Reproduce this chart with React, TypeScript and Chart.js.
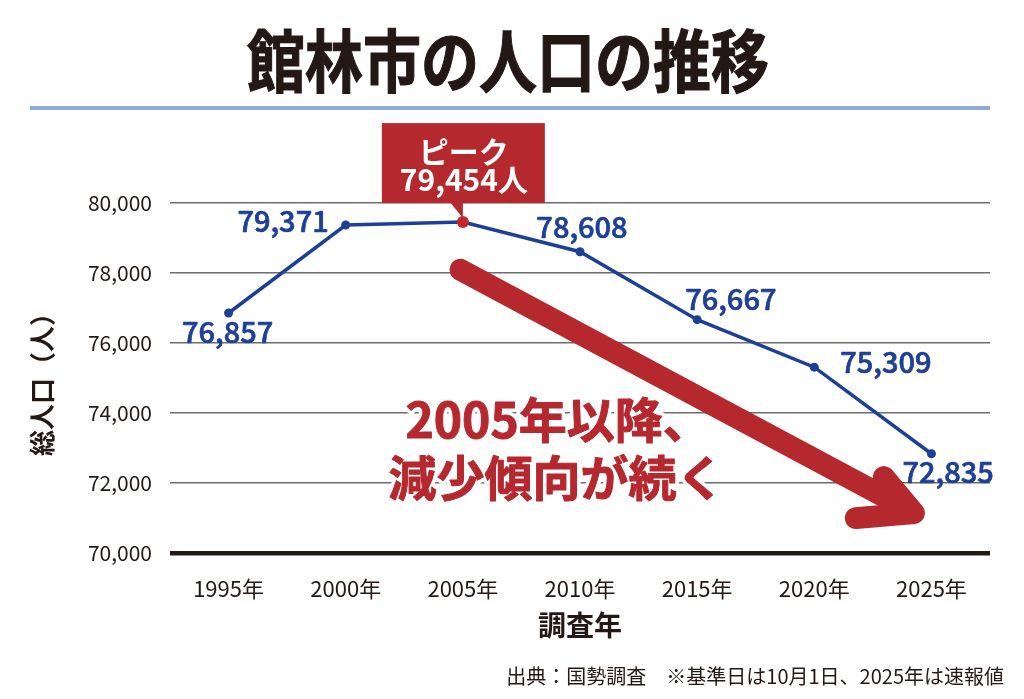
import React, { useEffect, useRef } from "react";
import { Chart, registerables } from "chart.js";

Chart.register(...registerables);

// ---- data ----
const years = ["1995年", "2000年", "2005年", "2010年", "2015年", "2020年", "2025年"];
const population = [76857, 79371, 79454, 78608, 76667, 75309, 72835];
const yMin = 70000;
const yMax = 80000;
const yStep = 2000;
const peakIndex = 2;

const titleText = "館林市の人口の推移";
const yTitleText = "総人口（人）";
const xTitleText = "調査年";
const sourceText = "出典：国勢調査　※基準日は10月1日、2025年は速報値";
const peakLabel = "ピーク";
const messageLines = ["2005年以降、", "減少傾向が続く"];

// ---- styles / placement ----
const FONT = '"Noto Sans CJK JP", "Noto Sans", sans-serif';
const BLUE = "#1e3f96";
const RED = "#b5282e";
const INK = "#231815";

// data label offsets from each point (px)
const labelOffsets: ({ dx: number; dy: number; align: CanvasTextAlign } | null)[] = [
  { dx: -1, dy: 19, align: "center" },
  { dx: -17, dy: -4, align: "right" },
  null,
  { dx: 2, dy: -25, align: "center" },
  { dx: -12, dy: -21, align: "left" },
  { dx: 26, dy: -5, align: "left" },
  { dx: -29, dy: 18, align: "left" },
];

// arrow anchors in data space (category index, value)
const arrowStart = { i: 1.98, v: 78090 };
const arrowTip = { i: 5.85, v: 71140 };
// message anchors (left edge, centre line) in data space
const messageAnchors = [
  { i: 1.51, v: 73800 },
  { i: 1.365, v: 72140 },
];

const fmt = (n: number) => n.toLocaleString("en-US");

const overlayPlugin = {
  id: "overlay",
  afterDraw(chart: any) {
    const { ctx, chartArea } = chart;
    const xs = chart.scales.x;
    const ys = chart.scales.y;
    ctx.save();

    // title
    ctx.save();
    ctx.fillStyle = INK;
    ctx.strokeStyle = INK;
    ctx.lineWidth = 1;
    ctx.font = `bold 58px ${FONT}`;
    ctx.textAlign = "center";
    ctx.textBaseline = "middle";
    ctx.translate(508, 61);
    ctx.scale(1, 1.18);
    ctx.fillText(titleText, 0, 0);
    ctx.strokeText(titleText, 0, 0);
    ctx.restore();

    // rule
    ctx.fillStyle = "#8ea9d3";
    ctx.fillRect(30, 106, chartArea.right - 30, 4);

    // y title
    ctx.save();
    ctx.translate(42, (chartArea.top + chartArea.bottom) / 2);
    ctx.rotate(-Math.PI / 2);
    ctx.fillStyle = INK;
    ctx.font = `bold 26px ${FONT}`;
    ctx.textAlign = "center";
    ctx.textBaseline = "middle";
    ctx.fillText(yTitleText, 0, 0);
    ctx.restore();

    // x title
    ctx.fillStyle = INK;
    ctx.font = `bold 28px ${FONT}`;
    ctx.textAlign = "center";
    ctx.textBaseline = "middle";
    ctx.fillText(xTitleText, (chartArea.left + chartArea.right) / 2, 625);

    // source
    ctx.font = `20px ${FONT}`;
    ctx.textAlign = "right";
    ctx.fillText(sourceText, 1004, 676);

    // arrow
    const sx = xs.getPixelForValue(arrowStart.i);
    const sy = ys.getPixelForValue(arrowStart.v);
    const tx = xs.getPixelForValue(arrowTip.i);
    const ty = ys.getPixelForValue(arrowTip.v);
    ctx.strokeStyle = RED;
    ctx.lineWidth = 22;
    ctx.lineCap = "round";
    ctx.lineJoin = "round";
    ctx.beginPath();
    ctx.moveTo(sx, sy);
    ctx.lineTo(tx - 8, ty - 5);
    ctx.stroke();
    ctx.beginPath();
    ctx.moveTo(tx - 30, ty - 36);
    ctx.lineTo(tx, ty);
    ctx.lineTo(tx - 58, ty + 5);
    ctx.stroke();

    // message
    ctx.font = `bold 48px ${FONT}`;
    ctx.textAlign = "left";
    ctx.textBaseline = "middle";
    messageLines.forEach((line, k) => {
      const a = messageAnchors[k];
      const mx = xs.getPixelForValue(a.i);
      const my = ys.getPixelForValue(a.v);
      ctx.strokeStyle = "#ffffff";
      ctx.lineWidth = 8;
      ctx.strokeText(line, mx, my);
      ctx.fillStyle = RED;
      ctx.fillText(line, mx, my);
      ctx.strokeStyle = RED;
      ctx.lineWidth = 1;
      ctx.strokeText(line, mx, my);
    });

    // data labels
    ctx.font = `500 29px ${FONT}`;
    ctx.fillStyle = BLUE;
    ctx.strokeStyle = BLUE;
    ctx.lineWidth = 0.7;
    ctx.textBaseline = "middle";
    population.forEach((v, i) => {
      const off = labelOffsets[i];
      if (!off) return;
      const px = xs.getPixelForValue(i);
      const py = ys.getPixelForValue(v);
      ctx.textAlign = off.align;
      ctx.fillText(fmt(v), px + off.dx, py + off.dy);
      ctx.strokeText(fmt(v), px + off.dx, py + off.dy);
    });

    // peak callout
    const px = xs.getPixelForValue(peakIndex);
    const py = ys.getPixelForValue(population[peakIndex]);
    ctx.fillStyle = RED;
    ctx.fillRect(px - 81, py - 99, 163, 80);
    ctx.beginPath();
    ctx.moveTo(px - 13, py - 20);
    ctx.lineTo(px, py - 20);
    ctx.lineTo(px, py - 4);
    ctx.closePath();
    ctx.fill();
    ctx.fillStyle = "#ffffff";
    ctx.font = `bold 30px ${FONT}`;
    ctx.textAlign = "center";
    ctx.fillText(peakLabel, px + 1, py - 71);
    ctx.fillText(fmt(population[peakIndex]) + "人", px + 1, py - 43);

    ctx.restore();
  },
};

export default function App() {
  const ref = useRef<HTMLCanvasElement | null>(null);
  useEffect(() => {
    if (!ref.current) return;
    const chart = new Chart(ref.current, {
      type: "line",
      data: {
        labels: years,
        datasets: [
          {
            data: population,
            borderColor: BLUE,
            borderWidth: 3.5,
            pointRadius: population.map((_, i) => (i === peakIndex ? 6 : 4.5)),
            pointBackgroundColor: population.map((_, i) => (i === peakIndex ? "#c1272d" : BLUE)),
            pointBorderWidth: 0,
            tension: 0,
          },
        ],
      },
      options: {
        responsive: false,
        animation: false,
        events: [],
        layout: { padding: { top: 203, right: 34, left: 0, bottom: 0 } },
        plugins: { legend: { display: false }, tooltip: { enabled: false }, title: { display: false } },
        scales: {
          x: {
            offset: true,
            grid: { display: false, offset: true },
            border: { display: false },
            ticks: { color: INK, font: { family: FONT, size: 22 }, padding: 14 },
            afterFit: (s: any) => {
              s.height = 146;
            },
          },
          y: {
            min: yMin,
            max: yMax,
            border: { display: false },
            grid: {
              drawTicks: false,
              color: (c: any) => (c.tick && c.tick.value === yMin ? INK : "#6d6d6d"),
              lineWidth: (c: any) => (c.tick && c.tick.value === yMin ? 4.5 : 1.5),
            },
            ticks: {
              stepSize: yStep,
              color: INK,
              padding: 18,
              font: { family: FONT, size: 21 },
              callback: (v: any) => fmt(Number(v)),
            },
            afterFit: (s: any) => {
              s.width = 170;
            },
          },
        },
      },
      plugins: [overlayPlugin],
    });
    return () => chart.destroy();
  }, []);
  return (
    <div style={{ position: "absolute", left: 0, top: 0, width: 1024, height: 699, background: "#fff" }}>
      <canvas ref={ref} width={1024} height={699} />
    </div>
  );
}
